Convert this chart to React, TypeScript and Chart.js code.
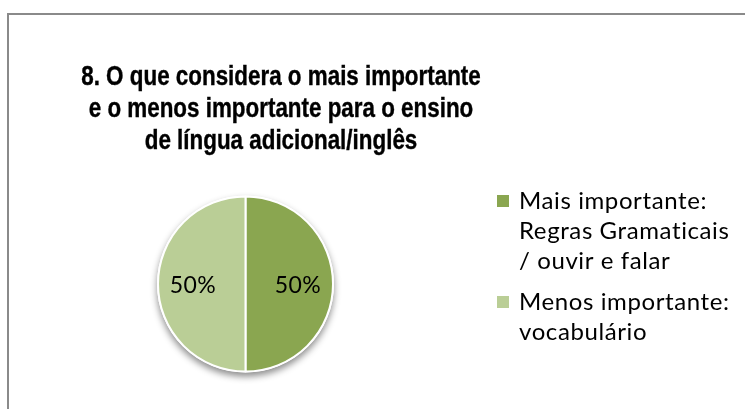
import React, { useEffect, useRef } from "react";
import { Chart, registerables } from "chart.js";

Chart.register(...registerables);

const titleLines = [
  "8. O que considera o mais importante",
  "e o menos importante para o ensino",
  "de língua adicional/inglês",
];
const categories = [
  ["Mais importante:", "Regras Gramaticais", "/ ouvir e falar"],
  ["Menos importante:", "vocabulário"],
];
const values = [50, 50];
const sliceColors = ["#8AA650", "#BACE96"];

const W = 745;
const H = 409;
const TEXT_FONT = "Lato, 'Open Sans', sans-serif";

const decorPlugin = {
  id: "decor",
  beforeDraw(chart: any) {
    const ctx: CanvasRenderingContext2D = chart.ctx;
    ctx.save();
    ctx.fillStyle = "#ffffff";
    ctx.fillRect(0, 0, W, H);
    // chart frame
    ctx.strokeStyle = "#8A8A8A";
    ctx.lineWidth = 2;
    ctx.strokeRect(8, 14, 900, 600);
    // title
    ctx.fillStyle = "#000000";
    ctx.strokeStyle = "#000000";
    ctx.lineWidth = 0.4;
    ctx.textAlign = "center";
    ctx.textBaseline = "alphabetic";
    ctx.font = "bold 28px 'Liberation Sans', Arial, sans-serif";
    const cx = 281;
    const baselines = [85, 117, 149];
    titleLines.forEach((line, i) => {
      ctx.save();
      ctx.translate(cx, baselines[i]);
      ctx.scale(0.8, 1);
      ctx.fillText(line, 0, 0);
      ctx.strokeText(line, 0, 0);
      ctx.restore();
    });
    ctx.restore();
  },
  beforeDatasetsDraw(chart: any) {
    const meta = chart.getDatasetMeta(0);
    const arc = meta.data[0];
    if (!arc) return;
    const { x, y, outerRadius } = arc.getProps(["x", "y", "outerRadius"], true);
    const ctx: CanvasRenderingContext2D = chart.ctx;
    ctx.save();
    ctx.shadowColor = "rgba(0,0,0,0.45)";
    ctx.shadowBlur = 7;
    ctx.shadowOffsetY = 4;
    ctx.fillStyle = "#ffffff";
    ctx.beginPath();
    ctx.arc(x, y, outerRadius + 1, 0, Math.PI * 2);
    ctx.fill();
    ctx.restore();
  },
  afterDatasetsDraw(chart: any) {
    const ctx: CanvasRenderingContext2D = chart.ctx;
    const meta = chart.getDatasetMeta(0);
    const data: number[] = chart.data.datasets[0].data;
    const total = data.reduce((s, v) => s + v, 0);
    ctx.save();
    ctx.fillStyle = "#000000";
    ctx.font = `23px ${TEXT_FONT}`;
    (ctx as any).letterSpacing = "0.5px";
    ctx.textAlign = "center";
    ctx.textBaseline = "middle";
    meta.data.forEach((el: any, i: number) => {
      const { x, y, startAngle, endAngle, outerRadius } = el.getProps(
        ["x", "y", "startAngle", "endAngle", "outerRadius"],
        true
      );
      const mid = (startAngle + endAngle) / 2;
      const r = outerRadius * 0.6;
      const pct = Math.round((data[i] / total) * 100) + "%";
      ctx.fillText(pct, x + Math.cos(mid) * r, y + Math.sin(mid) * r + 2);
    });

    // legend
    const labels: string[][] = chart.data.labels;
    const colors: string[] = chart.data.datasets[0].backgroundColor;
    const markerX = 497;
    const textX = 519;
    const lineH = 30;
    const gap = 11;
    let baseline = 209;
    ctx.font = `24px ${TEXT_FONT}`;
    (ctx as any).letterSpacing = "0.6px";
    ctx.textAlign = "left";
    ctx.textBaseline = "alphabetic";
    labels.forEach((lines, i) => {
      ctx.fillStyle = colors[i];
      ctx.fillRect(markerX, baseline - 14, 12, 12);
      ctx.fillStyle = "#000000";
      lines.forEach((ln, j) => {
        ctx.fillText(ln, textX, baseline + j * lineH);
      });
      baseline += lines.length * lineH + gap;
    });
    ctx.restore();
  },
};

export default function App() {
  const ref = useRef<HTMLCanvasElement | null>(null);
  useEffect(() => {
    if (!ref.current) return;
    const chart = new Chart(ref.current, {
      type: "pie",
      data: {
        labels: categories as any,
        datasets: [
          {
            data: values,
            backgroundColor: sliceColors,
            borderColor: "#ffffff",
            borderWidth: 2,
          },
        ],
      },
      options: {
        responsive: false,
        animation: false,
        devicePixelRatio: 1,
        layout: {
          padding: { left: 157, right: 411, top: 195, bottom: 36 },
        },
        plugins: {
          legend: { display: false },
          title: { display: false },
          tooltip: { enabled: false },
        },
      },
      plugins: [decorPlugin],
    });
    return () => chart.destroy();
  }, []);
  return (
    <div
      style={{
        position: "fixed",
        left: 0,
        top: 0,
        width: W,
        height: H,
        background: "#ffffff",
      }}
    >
      <canvas ref={ref} width={W} height={H} style={{ display: "block" }} />
    </div>
  );
}
